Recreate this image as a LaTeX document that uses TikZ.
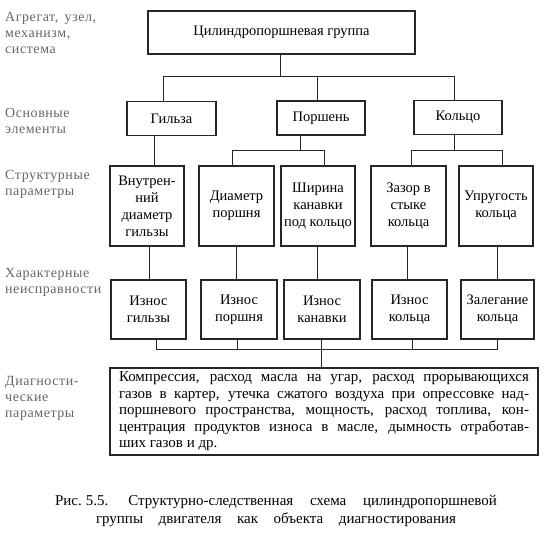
\documentclass[tikz,border=0pt]{standalone}
\usepackage{fontspec}
\setmainfont{Liberation Serif}
\newfontfamily\lblfont[LetterSpace=4]{Liberation Serif}
\usetikzlibrary{calc}
\begin{document}
\begin{tikzpicture}[x=1pt,y=-1pt,
  box/.style={draw=black!85, line width=1.1pt, inner sep=0pt, align=center, font=\fontsize{14.5}{17}\selectfont},
  lbl/.style={anchor=north west, align=left, text=black!60, inner sep=0pt, font=\lblfont\fontsize{14}{16}\selectfont},
  conn/.style={draw=black!85, line width=1pt}]
\useasboundingbox (0,0) rectangle (545,533);
\fill[white] (0,0) rectangle (545,533);

% left labels
\node[lbl] (l1) at (5,12) {Агрегат, \,узел,\\механизм,\\система};
\node[lbl] (l2) at (5,108) {Основные\\элементы};
\node[lbl] (l3) at (5,170) {Структурные\\параметры};
\node[lbl] (l4) at (5,268) {Характерные\\неисправности};
\node[lbl] (l5) at (5,376) {Диагности-\\ческие\\параметры};

% level 1
\node[box, minimum width=267pt, minimum height=43pt] (top) at (281.5,32.5) {Цилиндропоршневая группа};

% level 2
\node[box, minimum width=89pt, minimum height=34pt] (gilza) at (171.5,118.5) {Гильза};
\node[box, minimum width=88pt, minimum height=34pt] (porsh) at (321,118) {Поршень};
\node[box, minimum width=88pt, minimum height=34pt] (kolco) at (458,117.5) {Кольцо};

% level 3
\node[box, minimum width=74pt, minimum height=80pt] (vn) at (147,206) {Внутрен-\\ний\\диаметр\\гильзы};
\node[box, minimum width=75pt, minimum height=80pt] (dm) at (236.5,206) {Диаметр\\поршня};
\node[box, minimum width=74pt, minimum height=80pt] (sh) at (318,206) {Ширина\\канавки\\под кольцо};
\node[box, minimum width=75pt, minimum height=80pt] (zz) at (408.5,206) {Зазор в\\стыке\\кольца};
\node[box, minimum width=74pt, minimum height=80pt] (up) at (496,206) {Упругость\\кольца};

% level 4
\node[box, minimum width=75pt, minimum height=59pt] (i1) at (148.5,309.5) {Износ\\гильзы};
\node[box, minimum width=76pt, minimum height=59pt] (i2) at (239,309.5) {Износ\\поршня};
\node[box, minimum width=76pt, minimum height=59pt] (i3) at (322,309.5) {Износ\\канавки};
\node[box, minimum width=75pt, minimum height=59pt] (i4) at (409.5,309.5) {Износ\\кольца};
\node[box, minimum width=73pt, minimum height=59pt] (i5) at (497.5,309.5) {Залегание\\кольца};

% level 5
\node[box, minimum width=428pt, minimum height=87pt, font=\fontsize{15}{16.5}\selectfont] (diag) at (324,411.5)
{\makebox[410pt][s]{Компрессия, расход масла на угар, расход прорывающихся}\\
\makebox[410pt][s]{газов в картер, утечка сжатого воздуха при опрессовке над-}\\
\makebox[410pt][s]{поршневого пространства, мощность, расход топлива, кон-}\\
\makebox[410pt][s]{центрация продуктов износа в масле, дымность отработав-}\\
\makebox[410pt][l]{ших газов и др.}};

% caption
\node[align=center, inner sep=0pt, font=\fontsize{15}{17.5}\selectfont] (cap) at (276,511)
{\makebox[442pt][s]{Рис.\hspace{4pt}5.5.\hspace{20pt}Структурно-следственная схема цилиндропоршневой}\\
\makebox[360pt][s]{группы двигателя как объекта диагностирования}};

% connectors level 1 -> 2
\coordinate (j0) at (280,76);
\coordinate (bg) at (163,76);
\coordinate (bp) at (317,76);
\coordinate (bk) at (454,76);
\draw[conn] (top.south -| j0) -- (j0);
\draw[conn] (gilza.north -| bg) |- (bk) -- (kolco.north -| bk);
\draw[conn] (porsh.north -| bp) -- (bp);

% level 2 -> 3
\coordinate (sg) at (154,150);
\draw[conn] (gilza.south -| sg) -- (vn.north -| sg);
\coordinate (pp) at (300,150);
\coordinate (pd) at (232,150);
\coordinate (ps) at (324,150);
\draw[conn] (porsh.south -| pp) -- (pp);
\draw[conn] (dm.north -| pd) |- (ps) -- (sh.north -| ps);
\coordinate (kk) at (454,150);
\coordinate (kz) at (411,150);
\coordinate (ku) at (502,150);
\draw[conn] (kolco.south -| kk) -- (kk);
\draw[conn] (zz.north -| kz) |- (ku) -- (up.north -| ku);

% level 3 -> 4
\coordinate (s1) at (149,260);
\coordinate (s2) at (236,260);
\coordinate (s3) at (317,260);
\coordinate (s4) at (407,260);
\coordinate (s5) at (497,260);
\draw[conn] (vn.south -| s1) -- (i1.north -| s1);
\draw[conn] (dm.south -| s2) -- (i2.north -| s2);
\draw[conn] (sh.south -| s3) -- (i3.north -| s3);
\draw[conn] (zz.south -| s4) -- (i4.north -| s4);
\draw[conn] (up.south -| s5) -- (i5.north -| s5);

% level 4 -> 5
\coordinate (q1) at (156,349);
\coordinate (q2) at (237,349);
\coordinate (q3) at (321,349);
\coordinate (q4) at (412,349);
\coordinate (q5) at (497,349);
\draw[conn] (i1.south -| q1) |- (q5) -- (i5.south -| q5);
\draw[conn] (i2.south -| q2) -- (q2);
\draw[conn] (i4.south -| q4) -- (q4);
\draw[conn] (i3.south -| q3) -- (diag.north -| q3);
\end{tikzpicture}
\end{document}
